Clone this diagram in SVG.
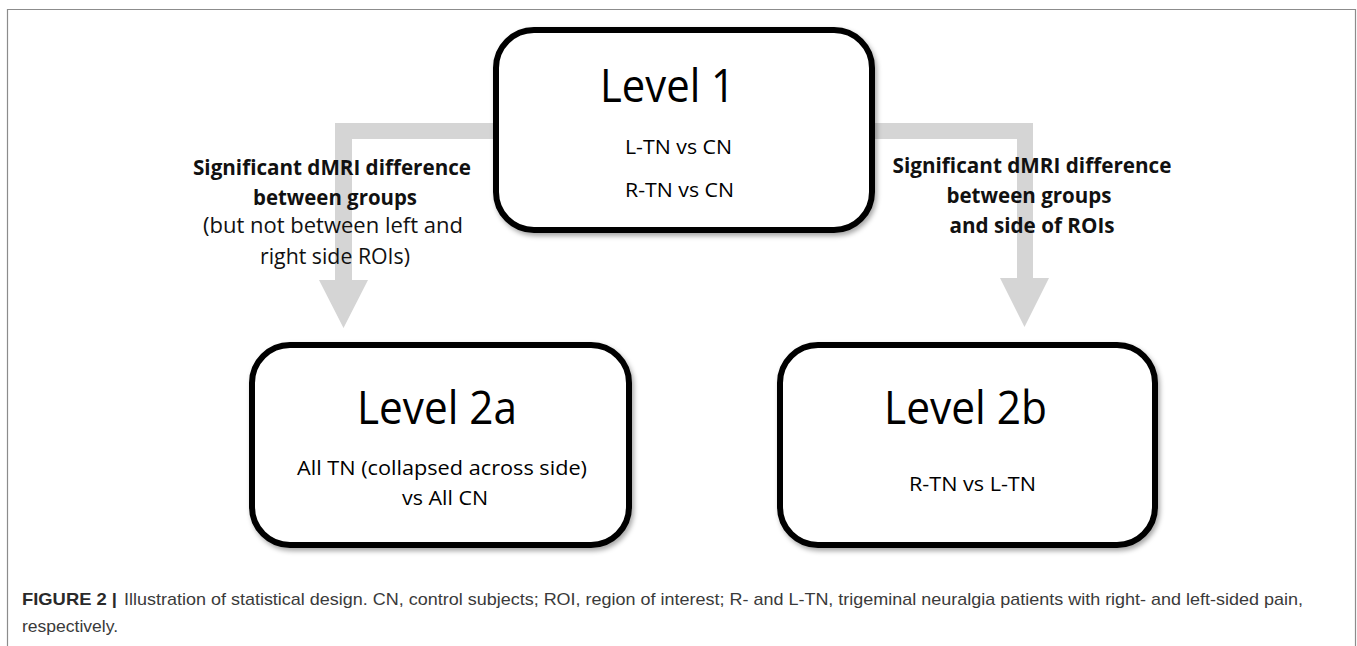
<svg xmlns="http://www.w3.org/2000/svg" width="1357" height="646" viewBox="0 0 1357 646">
<defs>
<filter id="sh" x="-10%" y="-10%" width="125%" height="130%">
<feDropShadow dx="2" dy="3" stdDeviation="2.5" flood-color="#000" flood-opacity="0.35"/>
</filter>
<style>
.box{fill:#fff;stroke:#000;stroke-width:6;filter:url(#sh)}
.lvl{font-family:"Open Sans","Liberation Sans",sans-serif;font-size:45px;fill:#000}
.sub{font-family:"Open Sans","Liberation Sans",sans-serif;font-size:20px;fill:#000}
.lb{font-family:"Open Sans","Liberation Sans",sans-serif;font-size:21px;font-weight:bold;fill:#111;text-anchor:middle}
.ln{font-family:"Open Sans","Liberation Sans",sans-serif;font-size:21px;fill:#111;text-anchor:middle}
.arrow{fill:#d5d5d5}
.cap{font-family:"Liberation Sans",Arial,sans-serif;font-size:17px;fill:#3a3a3a}
.capb{font-family:"Liberation Sans",Arial,sans-serif;font-size:17px;font-weight:bold;fill:#2a2a2a}
</style>
</defs>
<rect width="1357" height="646" fill="#fff"/>
<path d="M7.5,646 V9.5 H1355.5 V646" fill="none" stroke="#8c8c8c" stroke-width="1.2"/>
<g id="connectors">
<path class="arrow" d="M500,123 H335 V280 H319 L343.5,328 L368,280 H352 V139 H500 Z"/>
<path class="arrow" d="M870,123 H1033 V278 H1049 L1024.5,327 L1000,278 H1017 V139 H870 Z"/>
</g>
<g id="label-left">
<text class="lb" x="332" y="175" textLength="278" lengthAdjust="spacingAndGlyphs">Significant dMRI difference</text>
<text class="lb" x="335" y="205" textLength="164" lengthAdjust="spacingAndGlyphs">between groups</text>
<text class="ln" x="333" y="233" textLength="260" lengthAdjust="spacingAndGlyphs">(but not between left and</text>
<text class="ln" x="335" y="264" textLength="150" lengthAdjust="spacingAndGlyphs">right side ROIs)</text>
</g>
<g id="label-right">
<text class="lb" x="1032" y="173" textLength="279" lengthAdjust="spacingAndGlyphs">Significant dMRI difference</text>
<text class="lb" x="1029" y="203" textLength="165" lengthAdjust="spacingAndGlyphs">between groups</text>
<text class="lb" x="1032" y="233" textLength="165" lengthAdjust="spacingAndGlyphs">and side of ROIs</text>
</g>
<g id="level1">
<rect class="box" x="496" y="30" width="376" height="200" rx="38" ry="38"/>
<text class="lvl" x="600" y="102" textLength="135" lengthAdjust="spacingAndGlyphs">Level 1</text>
<text class="sub" x="625" y="154" textLength="107" lengthAdjust="spacingAndGlyphs">L-TN vs CN</text>
<text class="sub" x="625" y="197" textLength="109" lengthAdjust="spacingAndGlyphs">R-TN vs CN</text>
</g>
<g id="level2a">
<rect class="box" x="252" y="345" width="377" height="200" rx="38" ry="38"/>
<text class="lvl" x="357" y="424" textLength="160" lengthAdjust="spacingAndGlyphs">Level 2a</text>
<text class="sub" x="297" y="475" font-size="21" textLength="290" lengthAdjust="spacingAndGlyphs">All TN (collapsed across side)</text>
<text class="sub" x="402" y="505" font-size="21" textLength="86" lengthAdjust="spacingAndGlyphs">vs All CN</text>
</g>
<g id="level2b">
<rect class="box" x="780" y="345" width="375" height="200" rx="38" ry="38"/>
<text class="lvl" x="884" y="424" textLength="163" lengthAdjust="spacingAndGlyphs">Level 2b</text>
<text class="sub" x="909" y="491" textLength="127" lengthAdjust="spacingAndGlyphs">R-TN vs L-TN</text>
</g>
<g id="caption">
<text class="capb" x="22" y="605" textLength="95" lengthAdjust="spacingAndGlyphs">FIGURE 2 |</text>
<text class="cap" x="124" y="605" textLength="1179" lengthAdjust="spacingAndGlyphs">Illustration of statistical design. CN, control subjects; ROI, region of interest; R- and L-TN, trigeminal neuralgia patients with right- and left-sided pain,</text>
<text class="cap" x="22" y="632" textLength="96" lengthAdjust="spacingAndGlyphs">respectively.</text>
</g>
</svg>
